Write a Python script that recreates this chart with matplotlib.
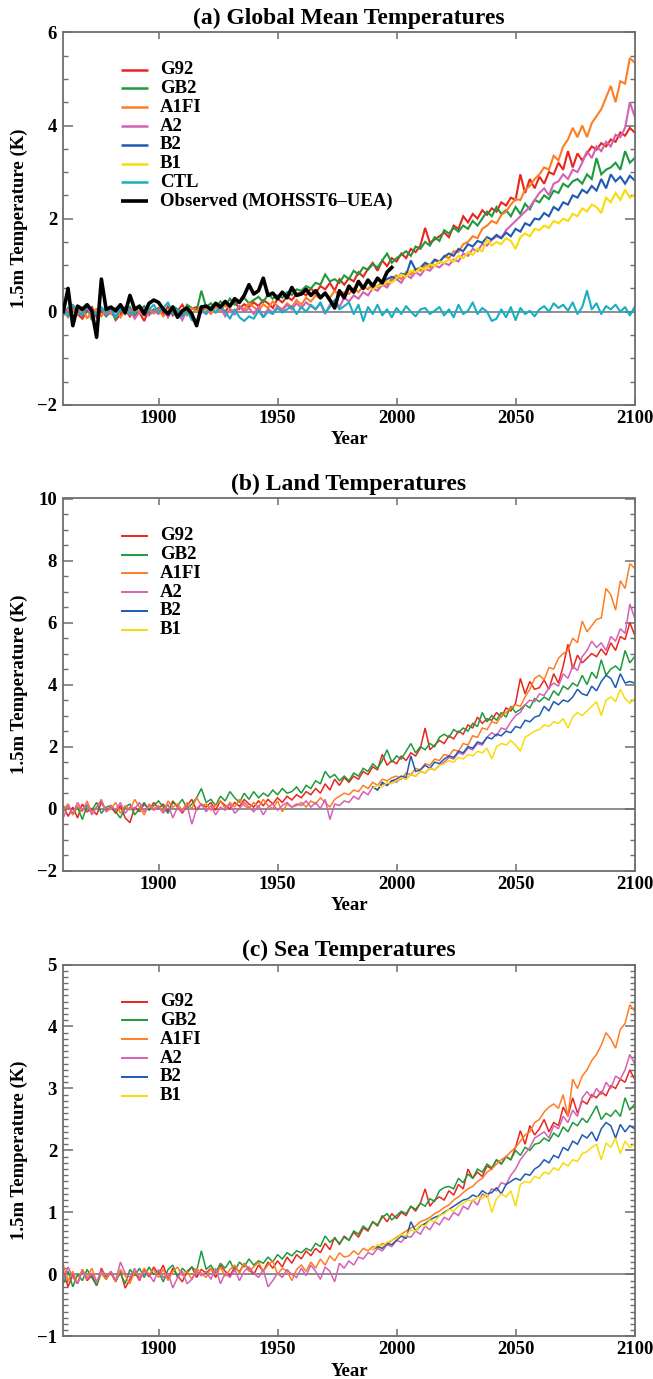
import numpy as np
import matplotlib
matplotlib.use('Agg')
import matplotlib.pyplot as plt
from matplotlib.ticker import MultipleLocator

plt.rcParams['font.family'] = ['Liberation Serif', 'DejaVu Serif']
plt.rcParams['font.weight'] = 'bold'

# ---------------- data ----------------
years_full = list(range(1860, 2101, 2))   # 121 points
years_sres = list(range(1990, 2101, 2))   # 56 points
years_obs = list(range(1860, 1999, 2))    # 70 points

series_names = ['G92', 'GB2', 'A1FI', 'A2', 'B2', 'B1']

# ---- (a) Global mean ----
glob_G92 = [0.05, -0.10, 0.08, -0.05, -0.15, 0.02, 0.10, -0.12, 0.00, -0.08,
            0.06, -0.18, -0.05, 0.04, -0.10, 0.08, -0.02, -0.20, 0.05, 0.00,
            0.08, -0.05, 0.12, -0.08, 0.02, 0.15, -0.04, 0.06, 0.10, -0.02,
            0.12, 0.04, 0.18, 0.08, 0.00, 0.14, 0.22, 0.06, 0.16, 0.10,
            0.20, 0.12, 0.25, 0.18, 0.08, 0.28, 0.20, 0.32, 0.25, 0.38,
            0.42, 0.35, 0.50, 0.40, 0.55, 0.48, 0.62, 0.45, 0.70, 0.58,
            0.72, 0.65, 0.85, 0.75, 0.92, 1.05, 0.88, 1.10, 0.98, 1.15,
            1.08, 1.25, 1.15, 1.35, 1.28, 1.42, 1.80, 1.48, 1.55, 1.62,
            1.70, 1.60, 1.85, 1.78, 2.05, 1.92, 2.10, 2.00, 2.18, 2.08,
            2.22, 2.15, 2.35, 2.28, 2.45, 2.40, 2.95, 2.55, 2.85, 2.65,
            2.90, 2.75, 3.00, 2.95, 3.20, 3.05, 3.45, 3.10, 3.40, 3.25,
            3.40, 3.55, 3.48, 3.62, 3.55, 3.70, 3.65, 3.85, 3.78, 3.95,
            3.85]
glob_GB2 = [-0.05, 0.08, -0.12, 0.02, -0.08, 0.10, -0.18, -0.02, 0.05, -0.10,
            0.00, -0.15, 0.06, -0.05, 0.10, -0.08, 0.02, 0.12, -0.04, 0.05,
            -0.02, 0.08, 0.00, 0.12, 0.05, -0.05, 0.15, 0.08, 0.02, 0.45,
            0.10, 0.18, 0.08, 0.22, 0.12, 0.28, 0.15, 0.20, 0.30, 0.18,
            0.25, 0.32, 0.20, 0.38, 0.28, 0.35, 0.30, 0.42, 0.36, 0.48,
            0.45, 0.55, 0.50, 0.62, 0.58, 0.80, 0.65, 0.70, 0.62, 0.78,
            0.70, 0.88, 0.80, 0.95, 0.90, 1.02, 0.95, 1.10, 1.25, 1.05,
            1.15, 1.22, 1.30, 1.20, 1.40, 1.35, 1.50, 1.42, 1.60, 1.52,
            1.75, 1.68, 1.80, 1.72, 1.85, 1.78, 1.95, 1.85, 2.00, 2.15,
            2.05, 2.25, 2.10, 2.18, 2.05, 2.25, 2.10, 2.32, 2.20, 2.40,
            2.35, 2.50, 2.42, 2.60, 2.55, 2.75, 2.68, 2.80, 2.85, 2.75,
            2.95, 2.85, 3.30, 2.95, 3.05, 3.10, 3.20, 3.05, 3.45, 3.20,
            3.30]
glob_A1FI = [0.02, -0.12, 0.05, -0.06, 0.10, -0.15, 0.00, 0.06, -0.10, 0.04,
             -0.05, 0.08, -0.12, 0.02, -0.06, 0.10, -0.02, -0.08, 0.06, -0.04,
             0.05, -0.10, 0.02, 0.10, -0.05, 0.04, -0.08, 0.08, 0.00, 0.12,
             0.04, -0.05, 0.10, 0.02, 0.15, 0.06, 0.00, 0.12, 0.05, 0.18,
             0.10, 0.02, 0.16, 0.08, 0.22, 0.12, 0.05, 0.18, 0.10, 0.25,
             0.15, 0.30, 0.22, 0.35, 0.28, 0.40, 0.30, 0.45, 0.35, 0.42,
             0.38, 0.50, 0.42, 0.55, 0.48, 0.60, 0.52, 0.65, 0.58, 0.72,
             0.78, 0.70, 0.85, 0.80, 0.92, 0.88, 1.00, 0.95, 1.10, 1.05,
             1.20, 1.15, 1.30, 1.28, 1.45, 1.50, 1.62, 1.58, 1.78, 1.85,
             1.95, 1.90, 2.08, 2.15, 2.30, 2.42, 2.40, 2.62, 2.70, 2.85,
             2.95, 3.10, 3.05, 3.35, 3.25, 3.55, 3.70, 3.95, 3.75, 4.00,
             3.75, 4.05, 4.20, 4.35, 4.60, 4.85, 4.50, 4.95, 4.90, 5.45,
             5.35]
glob_A2 = [-0.08, 0.05, -0.15, 0.02, -0.05, 0.10, -0.12, 0.00, 0.08, -0.06,
           0.02, -0.10, 0.12, -0.05, 0.05, -0.15, 0.00, 0.06, -0.08, 0.02,
           -0.05, 0.08, -0.12, 0.05, -0.02, -0.18, 0.04, -0.08, -0.25, 0.02,
           -0.05, 0.08, -0.02, 0.10, -0.10, 0.05, -0.06, 0.12, 0.00, 0.08,
           -0.05, 0.10, -0.12, 0.06, -0.02, 0.12, 0.02, 0.15, 0.05, 0.18,
           0.08, 0.20, 0.12, 0.05, 0.18, -0.05, 0.15, 0.25, 0.10, 0.30,
           0.22, 0.35, 0.28, 0.42, 0.35, 0.50, 0.45, 0.58, 0.52, 0.68,
           0.70, 0.62, 0.80, 0.72, 0.85, 0.78, 0.92, 0.88, 1.00, 0.95,
           1.05, 1.00, 1.12, 1.08, 1.25, 1.20, 1.35, 1.30, 1.45, 1.42,
           1.55, 1.62, 1.58, 1.75, 1.85, 1.95, 2.05, 2.15, 2.25, 2.40,
           2.55, 2.65, 2.50, 2.75, 2.80, 2.95, 2.85, 3.05, 3.00, 3.20,
           3.45, 3.30, 3.55, 3.45, 3.65, 3.55, 3.80, 3.75, 3.95, 4.50,
           4.20]
glob_B2 = [0.50, 0.55, 0.62, 0.70, 0.75,
           0.70, 0.82, 0.78, 1.10, 0.90, 0.95, 1.05, 1.00, 1.12, 1.08,
           1.18, 1.25, 1.20, 1.35, 1.30, 1.45, 1.40, 1.52, 1.48, 1.60,
           1.55, 1.65, 1.58, 1.70, 1.62, 1.78, 1.72, 1.90, 1.85, 2.00,
           1.98, 2.12, 2.05, 2.25, 2.18, 2.35, 2.30, 2.50, 2.45, 2.62,
           2.55, 2.70, 2.60, 2.85, 2.65, 2.95, 2.80, 2.90, 2.75, 2.92,
           2.82]
glob_B1 = [0.48, 0.55, 0.58, 0.65, 0.62,
           0.72, 0.80, 0.75, 0.88, 0.85, 0.95, 0.90, 1.02, 0.98, 1.08,
           1.05, 1.12, 1.08, 1.20, 1.15, 1.28, 1.22, 1.35, 1.30, 1.55,
           1.42, 1.50, 1.45, 1.58, 1.52, 1.35, 1.60, 1.68, 1.62, 1.78,
           1.75, 1.85, 1.80, 1.95, 1.90, 2.00, 1.95, 2.10, 2.05, 2.22,
           2.15, 2.30, 2.25, 2.12, 2.45, 2.35, 2.55, 2.40, 2.62, 2.45,
           2.50]
glob_CTL = [0.05, -0.10, 0.15, 0.00, -0.08, 0.12, 0.02, -0.05, 0.10, -0.02,
            0.08, -0.12, 0.05, 0.10, -0.05, 0.02, 0.12, -0.08, 0.05, 0.15,
            -0.02, 0.08, 0.20, -0.05, 0.05, -0.10, 0.02, -0.18, -0.22, 0.05,
            -0.05, 0.10, -0.02, 0.12, 0.00, -0.15, 0.05, -0.12, -0.20, -0.10,
            -0.15, 0.02, -0.12, 0.00, -0.05, 0.08, -0.02, 0.05, 0.12, -0.05,
            0.10, 0.00, 0.15, 0.05, 0.20, -0.02, 0.10, 0.25, 0.05, 0.12,
            0.20, -0.05, 0.15, -0.20, 0.10, -0.05, 0.15, -0.08, 0.05, -0.12,
            0.08, -0.05, 0.12, 0.00, -0.10, 0.05, 0.08, -0.05, 0.02, 0.10,
            -0.08, 0.05, -0.12, 0.15, -0.05, 0.02, 0.20, -0.05, 0.08, 0.00,
            -0.20, -0.15, 0.05, -0.12, 0.10, -0.18, 0.08, -0.05, 0.02, -0.10,
            0.05, 0.12, 0.00, 0.18, 0.08, 0.15, 0.02, 0.20, -0.05, 0.10,
            0.45, 0.05, 0.18, -0.05, 0.12, 0.05, 0.15, 0.00, 0.10, -0.08,
            0.10]
glob_OBS = [0.00, 0.50, -0.30, 0.12, 0.05, 0.15, 0.02, -0.55, 0.70, 0.05,
            0.10, 0.02, 0.15, -0.02, 0.35, 0.05, 0.12, -0.05, 0.18, 0.25,
            0.20, 0.05, -0.05, 0.10, -0.12, 0.02, 0.08, -0.05, -0.30, 0.10,
            0.12, 0.05, 0.18, 0.10, 0.22, 0.12, 0.28, 0.20, 0.35, 0.58,
            0.38, 0.45, 0.72, 0.35, 0.40, 0.28, 0.42, 0.30, 0.52, 0.35,
            0.38, 0.48, 0.35, 0.45, 0.30, 0.40, 0.25, 0.08, 0.45, 0.30,
            0.55, 0.42, 0.65, 0.50, 0.68, 0.55, 0.72, 0.62, 0.85, 0.95]

# ---- (b) Land ----
land_G92 = [0.10, -0.25, 0.05, -0.30, 0.15, -0.10, 0.00, -0.20, 0.20, -0.05,
            0.05, -0.15, 0.10, -0.30, -0.45, 0.05, -0.10, 0.15, -0.05, 0.20,
            0.00, 0.15, -0.10, 0.25, 0.05, -0.15, 0.10, 0.30, -0.05, 0.15,
            0.05, 0.20, -0.05, 0.25, 0.10, 0.00, 0.20, 0.08, 0.30, 0.15,
            0.05, 0.25, 0.10, 0.30, 0.15, 0.35, 0.20, 0.40, 0.28, 0.45,
            0.35, 0.55, 0.45, 0.65, 0.50, 0.80, 0.60, 0.95, 0.75, 1.00,
            0.85, 1.05, 0.95, 1.20, 1.10, 1.35, 1.25, 1.75, 1.40, 1.55,
            1.45, 1.70, 1.55, 1.80, 1.70, 1.95, 2.60, 1.90, 2.05, 2.20,
            2.10, 2.35, 2.25, 2.50, 2.40, 2.70, 2.60, 2.95, 2.75, 2.90,
            2.85, 3.10, 2.95, 3.25, 3.15, 3.40, 4.20, 3.70, 4.10, 3.85,
            3.90, 4.15, 3.85, 4.35, 4.05, 4.60, 5.30, 4.50, 4.95, 4.70,
            4.85, 5.00, 4.90, 5.15, 4.95, 5.35, 5.10, 5.55, 5.45, 6.00,
            5.60]
land_GB2 = [-0.10, 0.15, -0.20, 0.05, -0.35, 0.10, -0.05, 0.20, -0.15, 0.05,
            0.10, -0.10, -0.30, 0.05, 0.15, -0.20, 0.00, 0.20, -0.05, 0.10,
            0.25, 0.05, -0.15, 0.20, 0.10, 0.30, 0.00, 0.15, 0.35, 0.65,
            0.20, 0.30, 0.10, 0.40, 0.25, 0.55, 0.35, 0.20, 0.50, 0.30,
            0.55, 0.35, 0.50, 0.40, 0.60, 0.45, 0.65, 0.50, 0.55, 0.70,
            0.50, 0.75, 0.65, 0.90, 0.80, 1.20, 1.00, 1.10, 0.90, 1.05,
            0.90, 1.15, 1.05, 1.30, 1.20, 1.45, 1.30, 1.55, 1.90, 1.50,
            1.70, 1.60, 1.85, 2.10, 1.80, 2.00, 1.90, 2.10, 2.00, 2.30,
            2.40, 2.30, 2.55, 2.45, 2.60, 2.50, 2.75, 2.65, 3.10, 2.80,
            3.00, 2.85, 3.10, 2.95, 3.30, 3.10, 3.20, 3.35, 3.25, 3.55,
            3.45, 3.60, 3.50, 3.80, 3.65, 3.95, 3.85, 4.05, 3.95, 4.30,
            4.00, 4.40, 4.20, 4.80, 4.30, 4.50, 4.60, 4.45, 5.10, 4.70,
            4.90]
land_A1FI = [-0.05, 0.15, -0.20, 0.10, -0.10, 0.25, -0.15, 0.05, 0.30, -0.10,
             0.00, 0.20, -0.15, 0.10, -0.05, 0.30, 0.05, -0.20, 0.15, 0.00,
             0.10, -0.10, 0.25, 0.05, 0.15, -0.05, 0.20, 0.00, 0.35, 0.10,
             0.15, -0.05, 0.10, 0.25, 0.00, 0.20, 0.05, 0.30, 0.10, 0.00,
             0.20, 0.05, 0.30, 0.10, 0.00, 0.25, -0.10, 0.15, 0.05, 0.10,
             0.20, 0.05, 0.25, 0.15, 0.35, 0.20, 0.05, 0.30, 0.40, 0.50,
             0.45, 0.60, 0.55, 0.75, 0.65, 0.85, 0.75, 0.95, 0.90, 1.00,
             1.05, 0.95, 1.15, 1.10, 1.30, 1.25, 1.45, 1.40, 1.60, 1.55,
             1.75, 1.70, 1.90, 1.85, 2.10, 2.05, 2.35, 2.30, 2.60, 2.55,
             2.80, 2.75, 3.00, 3.10, 3.25, 3.35, 3.30, 3.60, 3.85, 4.20,
             4.30, 4.15, 4.55, 4.50, 4.85, 5.00, 5.10, 5.50, 5.35, 6.05,
             5.70, 5.90, 6.10, 6.15, 7.10, 6.90, 6.40, 7.35, 7.10, 7.90,
             7.75]
land_A2 = [-0.30, 0.10, -0.15, 0.20, -0.05, 0.15, -0.20, 0.05, 0.25, -0.10,
           0.10, -0.05, 0.20, -0.15, 0.05, 0.00, 0.20, -0.10, 0.10, -0.05,
           0.05, -0.15, 0.15, -0.30, 0.05, -0.10, 0.10, -0.50, 0.00, 0.15,
           -0.10, 0.10, -0.20, 0.05, -0.05, 0.15, -0.15, 0.00, 0.20, 0.05,
           -0.10, 0.10, -0.20, 0.05, 0.15, -0.05, 0.10, 0.20, 0.05, 0.15,
           0.10, 0.25, 0.05, 0.20, 0.00, 0.30, -0.35, 0.15, 0.10, 0.25,
           0.20, 0.40, 0.30, 0.55, 0.45, 0.70, 0.60, 0.80, 0.75, 0.90,
           0.85, 1.00, 0.95, 1.10, 1.05, 1.20, 1.15, 1.30, 1.25, 1.40,
           1.50, 1.65, 1.60, 1.80, 1.75, 1.95, 1.90, 2.10, 2.05, 2.30,
           2.45, 2.35, 2.60, 2.55, 2.80, 3.00, 3.10, 3.35, 3.50, 3.45,
           3.70, 3.65, 3.90, 4.05, 3.95, 4.35, 4.20, 4.60, 4.45, 4.90,
           5.10, 5.40, 5.20, 5.35, 5.10, 5.55, 5.40, 5.80, 5.65, 6.60,
           6.15]
land_B2 = [0.70, 0.60, 0.85, 0.75, 0.90,
           0.95, 1.05, 1.00, 1.70, 1.20, 1.25, 1.40, 1.30, 1.50, 1.45,
           1.60, 1.70, 1.65, 1.85, 1.80, 2.00, 1.95, 2.15, 2.10, 2.30,
           2.25, 2.40, 2.35, 2.50, 2.45, 2.65, 2.60, 2.85, 2.80, 2.95,
           3.00, 3.30, 3.15, 3.45, 3.35, 3.50, 3.45, 3.60, 3.85, 3.70,
           3.65, 3.95, 3.80, 4.10, 4.30, 4.20, 3.90, 4.35, 4.05, 4.10,
           4.05]
land_B1 = [0.65, 0.75, 0.70, 0.85, 0.80,
           0.90, 1.00, 0.95, 1.10, 1.05, 1.20, 1.15, 1.30, 1.25, 1.40,
           1.45, 1.55, 1.50, 1.65, 1.60, 1.75, 1.70, 1.85, 1.80, 1.95,
           1.60, 2.00, 2.10, 2.05, 2.20, 2.05, 1.85, 2.30, 2.40, 2.50,
           2.55, 2.70, 2.65, 2.80, 2.75, 2.90, 2.60, 2.95, 3.10, 3.00,
           3.15, 3.30, 3.45, 3.00, 3.50, 3.60, 3.45, 3.85, 3.55, 3.40,
           3.55]

# ---- (c) Sea ----
sea_G92 = [0.05, -0.20, 0.00, -0.15, 0.08, -0.10, -0.02, -0.18, 0.10, -0.05,
           0.02, -0.12, 0.05, -0.22, -0.08, 0.04, -0.10, 0.08, -0.04, 0.12,
           0.00, 0.15, -0.08, 0.10, -0.02, -0.12, 0.05, 0.12, -0.05, 0.08,
           0.02, 0.10, -0.05, 0.15, 0.05, -0.02, 0.12, 0.04, 0.18, 0.08,
           0.00, 0.15, 0.05, 0.20, 0.10, 0.22, 0.12, 0.28, 0.18, 0.32,
           0.25, 0.38, 0.30, 0.42, 0.35, 0.50, 0.40, 0.60, 0.48, 0.62,
           0.55, 0.68, 0.60, 0.75, 0.70, 0.85, 0.78, 0.95, 0.85, 0.98,
           0.90, 1.00, 0.95, 1.10, 1.02, 1.15, 1.38, 1.10, 1.20, 1.25,
           1.20, 1.35, 1.28, 1.45, 1.38, 1.70, 1.55, 1.65, 1.58, 1.75,
           1.70, 1.85, 1.78, 1.90, 1.85, 2.05, 2.32, 2.10, 2.40, 2.25,
           2.35, 2.50, 2.30, 2.45, 2.40, 2.70, 2.55, 2.85, 2.60, 2.80,
           2.75, 2.90, 2.85, 2.95, 2.88, 3.05, 3.00, 3.15, 3.10, 3.30,
           3.15]
sea_GB2 = [-0.15, 0.05, -0.20, 0.00, -0.10, 0.08, -0.05, -0.18, 0.02, -0.08,
           0.05, -0.10, 0.02, -0.15, 0.08, -0.02, 0.10, -0.05, 0.12, 0.00,
           0.05, -0.12, 0.08, 0.15, -0.05, 0.10, 0.02, 0.12, 0.05, 0.38,
           0.08, 0.15, 0.02, 0.18, 0.10, 0.22, 0.05, 0.20, 0.12, 0.25,
           0.15, 0.22, 0.18, 0.28, 0.20, 0.32, 0.25, 0.35, 0.30, 0.38,
           0.35, 0.42, 0.38, 0.50, 0.45, 0.62, 0.52, 0.58, 0.50, 0.60,
           0.55, 0.70, 0.65, 0.78, 0.72, 0.85, 0.80, 0.92, 0.98, 0.88,
           0.95, 1.02, 0.98, 1.10, 1.05, 1.15, 1.10, 1.22, 1.18, 1.35,
           1.40, 1.42, 1.38, 1.55, 1.48, 1.62, 1.55, 1.70, 1.65, 1.78,
           1.72, 1.85, 1.78, 1.90, 1.85, 2.00, 1.92, 2.05, 2.00, 2.10,
           2.12, 2.20, 2.15, 2.28, 2.22, 2.38, 2.30, 2.45, 2.40, 2.52,
           2.45, 2.58, 2.72, 2.50, 2.60, 2.55, 2.65, 2.55, 2.85, 2.65,
           2.75]
sea_A1FI = [0.15, -0.10, 0.05, -0.15, 0.08, -0.05, 0.10, -0.12, 0.02, -0.08,
            0.05, -0.12, 0.08, -0.02, -0.15, 0.05, -0.05, 0.10, 0.00, 0.08,
            -0.05, 0.08, -0.10, 0.05, 0.12, -0.02, 0.05, -0.08, 0.10, 0.02,
            -0.05, 0.10, 0.00, 0.12, -0.03, 0.08, 0.15, 0.02, 0.18, 0.05,
            0.12, 0.20, 0.05, 0.15, 0.22, 0.00, 0.10, 0.05, -0.10, 0.08,
            0.15, 0.05, 0.20, 0.10, 0.25, 0.15, 0.30, 0.22, 0.35, 0.28,
            0.30, 0.38, 0.32, 0.42, 0.38, 0.45, 0.42, 0.50, 0.48, 0.55,
            0.60, 0.65, 0.70, 0.75, 0.78, 0.85, 0.88, 0.92, 0.98, 1.02,
            1.08, 1.12, 1.20, 1.25, 1.32, 1.38, 1.42, 1.50, 1.55, 1.65,
            1.70, 1.78, 1.85, 1.90, 1.98, 2.05, 2.15, 2.25, 2.30, 2.45,
            2.50, 2.62, 2.70, 2.75, 2.68, 2.90, 2.55, 3.15, 3.00, 3.20,
            3.30, 3.45, 3.55, 3.70, 3.90, 3.80, 3.65, 3.95, 4.05, 4.35,
            4.25]
sea_A2 = [-0.10, 0.12, -0.05, -0.15, 0.05, -0.08, 0.02, -0.12, 0.06, -0.02,
          0.04, -0.10, 0.20, 0.02, -0.05, 0.10, -0.08, 0.05, 0.00, -0.12,
          0.08, -0.05, 0.02, -0.22, -0.05, 0.05, -0.15, -0.08, 0.05, -0.02,
          0.05, -0.08, 0.10, -0.15, 0.02, -0.05, 0.08, -0.10, 0.05, 0.12,
          0.02, -0.05, 0.08, -0.20, -0.10, 0.02, -0.05, 0.08, 0.00, -0.05,
          0.10, -0.02, 0.15, 0.05, -0.08, 0.12, 0.05, -0.12, 0.18, 0.10,
          0.22, 0.15, 0.28, 0.25, 0.35, 0.32, 0.42, 0.38, 0.48, 0.45,
          0.55, 0.52, 0.62, 0.60, 0.70, 0.65, 0.78, 0.72, 0.85, 0.80,
          0.92, 0.88, 1.00, 0.95, 1.10, 1.05, 1.20, 1.12, 1.30, 1.25,
          1.38, 1.35, 1.48, 1.45, 1.60, 1.70, 1.85, 1.95, 2.05, 2.20,
          2.25, 2.30, 2.20, 2.40, 2.35, 2.55, 2.45, 2.65, 2.55, 2.85,
          2.95, 2.85, 3.00, 2.90, 3.10, 3.00, 3.20, 3.15, 3.30, 3.55,
          3.40]
sea_B2 = [0.40, 0.45, 0.42, 0.50, 0.48,
          0.55, 0.62, 0.58, 0.85, 0.70, 0.78, 0.82, 0.88, 0.92, 0.95,
          1.00, 1.05, 1.10, 1.15, 1.20, 1.22, 1.28, 1.25, 1.35, 1.30,
          1.32, 1.40, 1.30, 1.45, 1.50, 1.55, 1.52, 1.62, 1.60, 1.70,
          1.75, 1.85, 1.80, 1.92, 1.88, 2.05, 2.00, 2.15, 2.10, 2.25,
          2.20, 2.30, 2.15, 2.35, 2.45, 2.40, 2.20, 2.42, 2.30, 2.40,
          2.35]
sea_B1 = [0.40, 0.48, 0.45, 0.52, 0.55,
          0.58, 0.65, 0.62, 0.72, 0.70, 0.80, 0.78, 0.88, 0.85, 0.95,
          0.98, 1.05, 1.02, 1.10, 1.15, 1.20, 1.18, 1.25, 1.22, 1.30,
          1.00, 1.22, 1.30, 1.25, 1.35, 1.10, 1.45, 1.50, 1.48, 1.58,
          1.55, 1.65, 1.62, 1.72, 1.68, 1.80, 1.75, 1.85, 1.82, 1.95,
          1.98, 2.05, 2.10, 1.85, 2.12, 2.05, 2.20, 1.95, 2.15, 2.05,
          2.10]

xticks = [1900, 1950, 2000, 2050, 2100]

# ---------------- styling ----------------
colors = {'G92': '#e8261e', 'GB2': '#1e9a3c', 'A1FI': '#ff7d22',
          'A2': '#d462b4', 'B2': '#1e5ab4', 'B1': '#f7dc0a',
          'CTL': '#18aec4', 'OBS': '#000000'}
axis_grey = '#6e6e6e'

W, H = 653, 1379
fig = plt.figure(figsize=(W / 100, H / 100), dpi=100)


def add_axes_px(left, right, top, bottom):
    return fig.add_axes([left / W, 1 - bottom / H, (right - left) / W, (bottom - top) / H])


L, R = 63.3, 634.6
panels = [
    dict(box=(L, R, 32.4, 404.8), title='(a) Global Mean Temperatures',
         ylim=(-2, 6), major=2, minor=0.5,
         data=[glob_G92, glob_GB2, glob_A1FI, glob_A2, glob_B2, glob_B1],
         lw=1.5, extra=True),
    dict(box=(L, R, 498.5, 870.7), title='(b) Land Temperatures',
         ylim=(-2, 10), major=2, minor=0.5,
         data=[land_G92, land_GB2, land_A1FI, land_A2, land_B2, land_B1],
         lw=1.1, extra=False),
    dict(box=(L, R, 964.5, 1336.4), title='(c) Sea Temperatures',
         ylim=(-1, 5), major=1, minor=0.1,
         data=[sea_G92, sea_GB2, sea_A1FI, sea_A2, sea_B2, sea_B1],
         lw=1.1, extra=False),
]

FS = 13.5
for p in panels:
    l, r, t, b = p['box']
    ax = add_axes_px(l, r, t, b)
    hpx = b - t
    ax.axhline(0, color='#858585', lw=1.3, zorder=1)
    for name, vals in zip(series_names, p['data']):
        yrs = years_sres if name in ('B2', 'B1') else years_full
        ax.plot(yrs, vals, color=colors[name], lw=p['lw'], zorder=2,
                solid_joinstyle='miter')
    if p['extra']:
        ax.plot(years_full, glob_CTL, color=colors['CTL'], lw=p['lw'], zorder=2)
        ax.plot(years_obs, glob_OBS, color=colors['OBS'], lw=2.6, zorder=3)

    ax.set_xlim(1860, 2100)
    ax.set_ylim(*p['ylim'])
    ax.set_xticks(xticks)
    ax.yaxis.set_major_locator(MultipleLocator(p['major']))
    ax.yaxis.set_minor_locator(MultipleLocator(p['minor']))
    for sp in ax.spines.values():
        sp.set_color(axis_grey)
        sp.set_linewidth(1.3)
    ax.tick_params(axis='x', which='major', direction='in', top=True, bottom=True,
                   length=5.3, width=1.1, color=axis_grey, pad=3.5, labelsize=FS)
    ax.tick_params(axis='x', which='minor', length=0)
    ax.tick_params(axis='y', which='major', direction='in', left=True, right=True,
                   length=6.9, width=1.1, color=axis_grey, pad=4.5, labelsize=FS)
    ax.tick_params(axis='y', which='minor', direction='in', left=True, right=True,
                   length=3.6, width=1.0, color=axis_grey)
    for lab in ax.get_xticklabels() + ax.get_yticklabels():
        lab.set_fontweight('bold')

    # titles and axis labels
    ax.text(0.5, 1 + 14 / hpx, p['title'], transform=ax.transAxes, ha='center',
            va='center', fontsize=17, fontweight='bold')
    ax.text(0.5, -35 / hpx, 'Year', transform=ax.transAxes, ha='center',
            va='center', fontsize=FS, fontweight='bold')
    ax.text((19 - l) / (r - l), 0.5, '1.5m Temperature (K)', transform=ax.transAxes,
            ha='center', va='center', rotation=90, fontsize=FS, fontweight='bold')

    # legend (drawn manually, IDL style)
    names = list(series_names)
    if p['extra']:
        names += ['CTL', 'OBS']
    labels = {'OBS': 'Observed (MOHSST6\u2013UEA)'}
    wpx = r - l
    x0, x1, xt = (121 - l) / wpx, (148 - l) / wpx, (160 - l) / wpx
    y0 = 0.900
    dy = 18.8 / hpx
    for i, name in enumerate(names):
        yy = y0 - i * dy
        lwl = 2.6 if name == 'OBS' else p['lw'] + 0.3
        ax.plot([x0, x1], [yy, yy], transform=ax.transAxes, color=colors[name],
                lw=lwl, solid_capstyle='butt', clip_on=False)
        ax.text(xt, yy, labels.get(name, name), transform=ax.transAxes,
                ha='left', va='center', fontsize=FS, fontweight='bold')

fig.savefig('out.png', dpi=100)
